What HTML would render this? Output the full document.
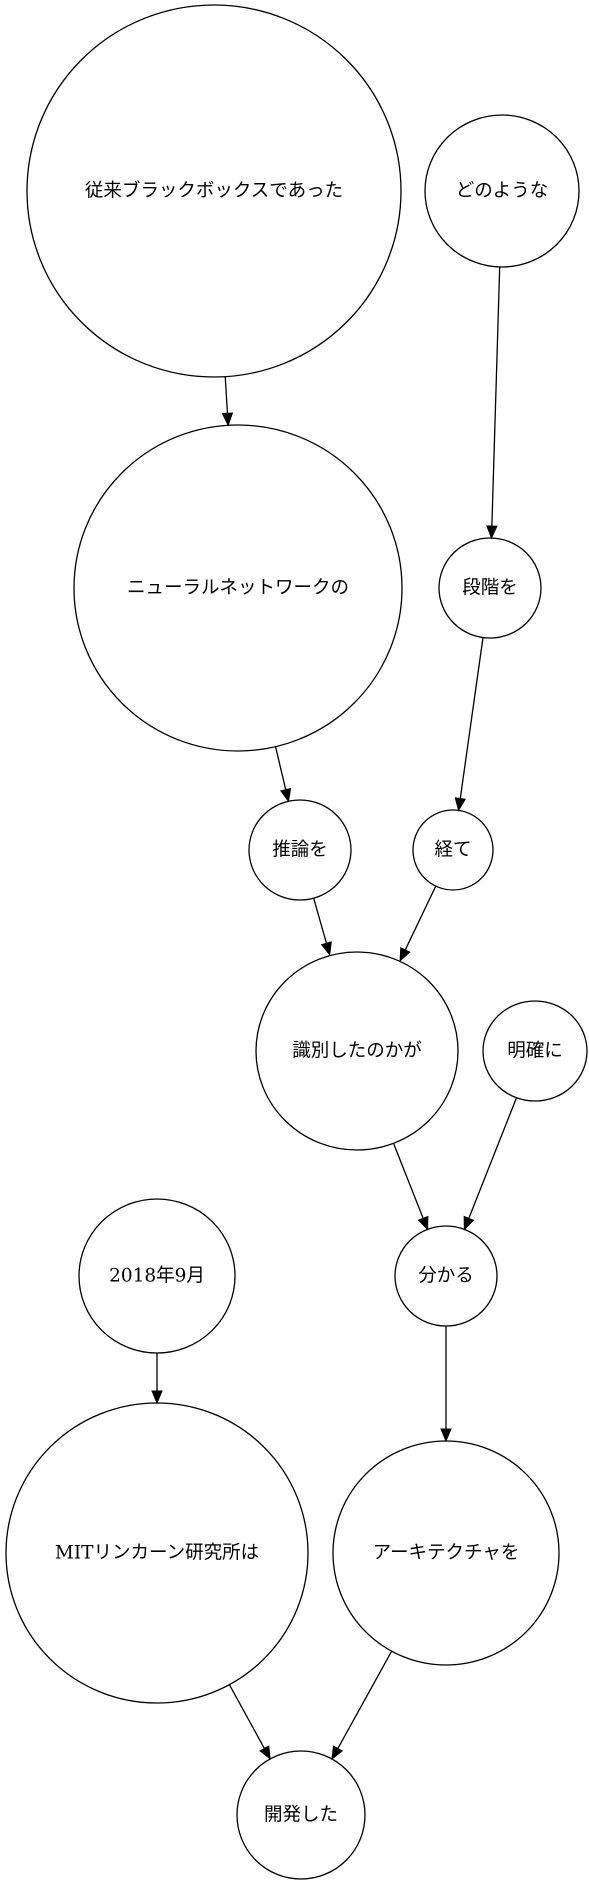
<!DOCTYPE html>
<html><head><meta charset="utf-8">
<style>
html,body{margin:0;padding:0;background:#fff;}
svg{display:block;}
text{font-family:"DejaVu Serif","Noto Sans CJK JP",serif;font-size:18.5px;text-anchor:middle;dominant-baseline:central;fill:#000;}
</style></head>
<body>
<svg id="s" width="589" height="1886" viewBox="0 0 589 1886" xmlns="http://www.w3.org/2000/svg">
<g fill="none" stroke="#000" stroke-width="1.3">
<ellipse cx="214" cy="191" rx="187" ry="186"/>
<ellipse cx="502" cy="191" rx="77" ry="76"/>
<ellipse cx="238" cy="588" rx="164" ry="163"/>
<ellipse cx="490" cy="588" rx="51" ry="50"/>
<ellipse cx="300" cy="850" rx="51" ry="50"/>
<ellipse cx="453" cy="850" rx="40" ry="40"/>
<ellipse cx="357" cy="1051" rx="101" ry="99"/>
<ellipse cx="535" cy="1051" rx="52" ry="50"/>
<ellipse cx="446" cy="1276" rx="51" ry="50"/>
<ellipse cx="157" cy="1276" rx="78" ry="77"/>
<ellipse cx="157" cy="1553" rx="151" ry="150"/>
<ellipse cx="446" cy="1553" rx="113" ry="112"/>
<ellipse cx="301" cy="1815" rx="64" ry="64"/>
</g>
<g id="edges"></g>
<text x="214" y="191">従来ブラックボックスであった</text>
<text x="502" y="191">どのような</text>
<text x="238" y="588">ニューラルネットワークの</text>
<text x="490" y="588">段階を</text>
<text x="300" y="850">推論を</text>
<text x="453" y="850">経て</text>
<text x="357" y="1051">識別したのかが</text>
<text x="535" y="1051">明確に</text>
<text x="446" y="1276">分かる</text>
<text x="157" y="1276">2018年9月</text>
<text x="157" y="1553">MITリンカーン研究所は</text>
<text x="446" y="1553">アーキテクチャを</text>
<text x="301" y="1815">開発した</text>
</svg>
<script>
var N=[[214,191,186],[502,191,76],[238,588,163],[490,588,50],[300,850,50],[453,850,40],[357,1051,100],[535,1051,51],[446,1276,50],[157,1276,77],[157,1553,150],[446,1553,112],[301,1815,64]];
var E=[[0,2],[1,3],[2,4],[3,5],[4,6],[5,6],[6,8],[7,8],[8,11],[9,10],[10,12],[11,12]];
var g=document.getElementById('edges'),h='';
E.forEach(function(e){var a=N[e[0]],b=N[e[1]];var dx=b[0]-a[0],dy=b[1]-a[1],L=Math.hypot(dx,dy),ux=dx/L,uy=dy/L;
var x1=a[0]+ux*a[2],y1=a[1]+uy*a[2],x2=b[0]-ux*b[2],y2=b[1]-uy*b[2];
var bx=x2-ux*12,by=y2-uy*12,px=-uy*5,py=ux*5;
h+='<line x1="'+x1+'" y1="'+y1+'" x2="'+bx+'" y2="'+by+'" stroke="#000" stroke-width="1.3"/>';
h+='<polygon points="'+x2+','+y2+' '+(bx+px)+','+(by+py)+' '+(bx-px)+','+(by-py)+'" fill="#000" stroke="#000"/>';});
g.innerHTML=h;
</script>
</body></html>
